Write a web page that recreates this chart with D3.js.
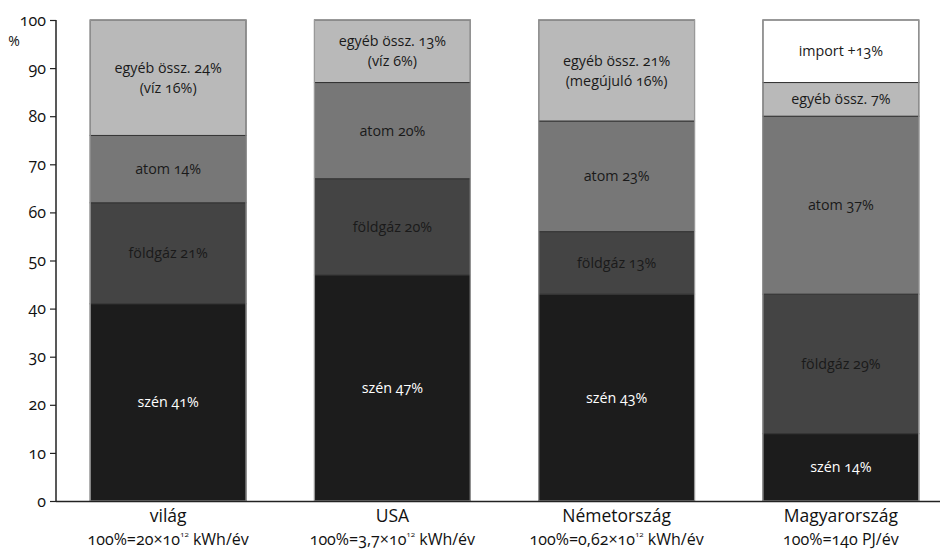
<!DOCTYPE html>
<html><head><meta charset="utf-8">
<script src="https://cdn.jsdelivr.net/npm/d3@7"></script>
<style>
body{margin:0;background:#fff;}
svg{display:block;font-family:"Open Sans","Lato",sans-serif;font-feature-settings:"onum";}
</style></head><body>
<svg id="c" width="942" height="549"></svg>
<script>
const categories = ["világ","USA","Németország","Magyarország"];
// subtitle parts: [before superscript, superscript, after]
const subtitles = [["100%=20×10","12"," kWh/év"],["100%=3,7×10","12"," kWh/év"],["100%=0,62×10","12"," kWh/év"],["100%=140 PJ/év","",""]];
const seriesNames = ["szén","földgáz","atom","egyéb","import"];
const szen    = [41,47,43,14];
const foldgaz = [21,20,13,29];
const atom    = [14,20,23,37];
const egyeb   = [24,13,21,7];
const importV = [0,0,0,13];
const labels = [
  [["szén 41%"],["földgáz 21%"],["atom 14%"],["egyéb össz. 24%","(víz 16%)"],[]],
  [["szén 47%"],["földgáz 20%"],["atom 20%"],["egyéb össz. 13%","(víz 6%)"],[]],
  [["szén 43%"],["földgáz 13%"],["atom 23%"],["egyéb össz. 21%","(megújuló 16%)"],[]],
  [["szén 14%"],["földgáz 29%"],["atom 37%"],["egyéb össz. 7%"],["import +13%"]]
];
const yTicks = [0,10,20,30,40,50,60,70,80,90,100];
const colors = ["#1c1c1c","#444444","#777777","#b9b9b9","#ffffff"];
const textColors = ["#ffffff","#1a1a1a","#1a1a1a","#1a1a1a","#1a1a1a"];

const svg = d3.select("#c");
const x = d3.scaleBand().domain(categories).range([56,953]).paddingInner(0.305).paddingOuter(0.1525);
const y = d3.scaleLinear().domain([0,100]).range([501,20]);

const table = categories.map((c,i)=>({cat:c, szén:szen[i], földgáz:foldgaz[i], atom:atom[i], egyéb:egyeb[i], import:importV[i]}));
const stack = d3.stack().keys(seriesNames)(table);

stack.forEach((layer,k)=>{
  svg.append("g").selectAll("rect").data(layer.filter(d=>d[1]-d[0]>0)).join("rect")
    .attr("x",d=>x(d.data.cat)).attr("width",x.bandwidth())
    .attr("y",d=>y(d[1])).attr("height",d=>y(d[0])-y(d[1]))
    .attr("fill",colors[k]).attr("stroke","#333").attr("stroke-width",1);
});
svg.append("g").selectAll("rect").data(categories).join("rect")
  .attr("x",c=>x(c)).attr("width",x.bandwidth())
  .attr("y",y(100)).attr("height",y(0)-y(100))
  .attr("fill","none").attr("stroke","#999").attr("stroke-width",1.2);

stack.forEach((layer,k)=>{
  layer.forEach((d,i)=>{
    const lines = labels[i][k];
    if(!lines.length) return;
    const cy = (y(d[0])+y(d[1]))/2;
    const cx = x(d.data.cat)+x.bandwidth()/2;
    const lh = 20;
    lines.forEach((t,j)=>{
      svg.append("text").attr("x",cx).attr("y",cy+(j-(lines.length-1)/2)*lh)
        .attr("dy","0.35em").attr("text-anchor","middle")
        .attr("font-size",14.3).attr("fill",textColors[k]).text(t);
    });
  });
});

const yAxis = svg.append("g").attr("transform","translate(56,0)")
  .call(d3.axisLeft(y).tickValues(yTicks).tickSize(6).tickPadding(4));
yAxis.select(".domain").attr("stroke","#222").attr("stroke-width",1.5).attr("d","M0,20V501");
yAxis.selectAll(".tick line").attr("stroke","#222").attr("stroke-width",1.2);
yAxis.selectAll(".tick text").attr("font-size",16).attr("fill","#111").attr("font-family","'Open Sans',sans-serif");

svg.append("line").attr("x1",56).attr("x2",940).attr("y1",501.5).attr("y2",501.5).attr("stroke","#222").attr("stroke-width",1.5);

svg.append("text").attr("x",14).attr("y",46).attr("text-anchor","middle").attr("font-size",14).attr("fill","#111").text("%");

categories.forEach((c,i)=>{
  const cx = x(c)+x.bandwidth()/2;
  svg.append("text").attr("x",cx).attr("y",522).attr("text-anchor","middle").attr("font-size",17.5).attr("fill","#111").text(c);
  const s = subtitles[i];
  const t = svg.append("text").attr("x",cx).attr("y",545).attr("text-anchor","middle").attr("font-size",16).attr("fill","#111");
  t.append("tspan").text(s[0]);
  if(s[1]){
    t.append("tspan").attr("font-size",8).attr("dy",-8).text(s[1]);
    t.append("tspan").attr("dy",8).text(s[2]);
  }
});
</script>
</body></html>
